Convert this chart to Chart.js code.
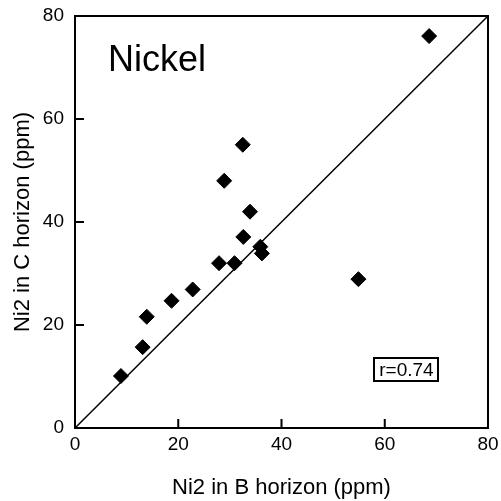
<!DOCTYPE html>
<html>
<head>
<meta charset="utf-8">
<script src="https://cdn.jsdelivr.net/npm/chart.js@4.4.1/dist/chart.umd.min.js"></script>
<style>
  html, body { margin: 0; padding: 0; background: #fff; }
  #wrap { width: 501px; height: 501px; }
</style>
</head>
<body>
<div id="wrap"><canvas id="c" width="501" height="501"></canvas></div>
<script>
// Nickel concentrations (ppm) in paired soil samples
const bHorizon = [8.9, 13.1, 13.9, 18.7, 22.8, 27.9, 30.9, 32.6, 33.9, 28.9, 32.5, 35.9, 36.2, 54.9, 68.6];
const cHorizon = [10.1, 15.7, 21.6, 24.7, 26.9, 32.0, 32.0, 37.1, 42.0, 48.0, 55.0, 35.2, 33.9, 28.9, 76.1];
const axisTicks = [0, 20, 40, 60, 80];
const oneToOne = [0, 80];
const panelTitle = 'Nickel';
const corrLabel = 'r=0.74';
const xTitle = 'Ni2 in B horizon (ppm)';
const yTitle = 'Ni2 in C horizon (ppm)';

const FONT = "'Liberation Sans', Arial, Helvetica, sans-serif";

const points = bHorizon.map((x, i) => ({ x, y: cHorizon[i] }));
const line = oneToOne.map(v => ({ x: v, y: v }));

// frame, inward tick marks, panel title and correlation box
const decorations = {
  id: 'decorations',
  afterDatasetsDraw(chart) {
    const { ctx, chartArea: a, scales: { x, y } } = chart;
    ctx.save();
    ctx.strokeStyle = '#000';
    ctx.lineWidth = 2;
    ctx.strokeRect(a.left, a.top, a.right - a.left, a.bottom - a.top);
    ctx.beginPath();
    axisTicks.slice(1, -1).forEach(v => {
      const px = x.getPixelForValue(v);
      ctx.moveTo(px, a.bottom);
      ctx.lineTo(px, a.bottom - 9);
      const py = y.getPixelForValue(v);
      ctx.moveTo(a.left, py);
      ctx.lineTo(a.left + 9, py);
    });
    ctx.stroke();

    ctx.fillStyle = '#000';
    ctx.font = '36px ' + FONT;
    ctx.textAlign = 'left';
    ctx.textBaseline = 'alphabetic';
    ctx.fillText(panelTitle, x.getPixelForValue(6.4), y.getPixelForValue(69.4));

    ctx.font = '19px ' + FONT;
    const cx = x.getPixelForValue(64.2);
    const cy = y.getPixelForValue(11.3);
    const tw = ctx.measureText(corrLabel).width;
    const bw = tw + 10, bh = 23;
    ctx.lineWidth = 2;
    ctx.strokeRect(Math.round(cx - bw / 2), Math.round(cy - bh / 2), Math.round(bw), bh);
    ctx.textAlign = 'center';
    ctx.textBaseline = 'middle';
    ctx.fillText(corrLabel, cx, cy + 1);
    ctx.restore();
  }
};

new Chart(document.getElementById('c'), {
  type: 'scatter',
  data: {
    datasets: [
      {
        type: 'line',
        data: line,
        borderColor: '#000',
        borderWidth: 1.5,
        pointRadius: 0,
        fill: false,
        order: 2
      },
      {
        data: points,
        pointStyle: 'rectRot',
        pointRadius: 7.5,
        backgroundColor: '#000',
        borderColor: '#000',
        borderWidth: 1,
        order: 1
      }
    ]
  },
  options: {
    responsive: false,
    animation: false,
    devicePixelRatio: 1,
    layout: { padding: { top: 16, right: 13, left: 0, bottom: 0 } },
    plugins: { legend: { display: false }, tooltip: { enabled: false } },
    scales: {
      x: {
        type: 'linear',
        min: 0, max: 80,
        afterBuildTicks(s) { s.ticks = axisTicks.map(v => ({ value: v })); },
        afterFit(s) { s.height = 73; s.paddingLeft = 0; s.paddingRight = 0; },
        grid: { display: false, drawTicks: false },
        border: { display: false },
        ticks: { color: '#000', font: { family: FONT, size: 19 }, padding: 5, maxRotation: 0 },
        title: { display: true, text: xTitle, color: '#000', font: { family: FONT, size: 22 }, padding: { top: 17, bottom: 0 } }
      },
      y: {
        type: 'linear',
        min: 0, max: 80,
        afterBuildTicks(s) { s.ticks = axisTicks.map(v => ({ value: v })); },
        afterFit(s) { s.width = 75; s.paddingTop = 0; s.paddingBottom = 0; },
        grid: { display: false, drawTicks: false },
        border: { display: false },
        ticks: { color: '#000', font: { family: FONT, size: 19 }, padding: 11 },
        title: { display: true, text: yTitle, color: '#000', font: { family: FONT, size: 22 }, padding: { top: 10, bottom: 6 } }
      }
    }
  },
  plugins: [decorations]
});
</script>
</body>
</html>
